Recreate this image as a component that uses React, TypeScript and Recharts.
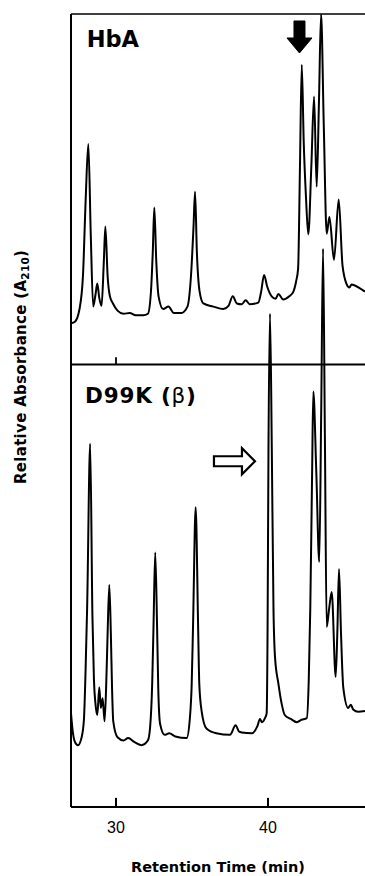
import React from 'react';
import { LineChart, Line, XAxis, YAxis, ReferenceLine, ReferenceDot } from 'recharts';

// Retention time (min) and relative absorbance for HbA (top trace)
const HBA_TIME = [27.04, 27.3, 27.6, 27.83, 28.0, 28.18, 28.34, 28.5, 28.65, 28.77, 28.9, 29.05, 29.2, 29.3, 29.45, 29.6, 29.8, 30.1, 30.5, 30.9, 31.3, 31.8, 32.1, 32.3, 32.42, 32.52, 32.65, 32.8, 33.1, 33.45, 33.8, 34.3, 34.7, 34.95, 35.1, 35.2, 35.32, 35.5, 35.75, 36.4, 37.06, 37.4, 37.68, 37.95, 38.27, 38.53, 38.8, 39.36, 39.55, 39.74, 39.95, 40.24, 40.5, 40.68, 41.0, 41.4, 41.67, 41.85, 41.98, 42.1, 42.22, 42.35, 42.5, 42.65, 42.85, 43.03, 43.2, 43.35, 43.49, 43.67, 43.86, 44.04, 44.34, 44.65, 44.9, 45.18, 45.35, 45.5, 46.05, 46.38];
const HBA_ABS = [5.2, 5.4, 7.0, 11.3, 20.5, 27.8, 16.4, 7.3, 8.8, 10.2, 8.4, 7.4, 13.0, 17.4, 11.1, 8.6, 7.7, 6.8, 6.4, 6.5, 6.2, 6.2, 6.4, 9.2, 14.2, 19.8, 13.0, 8.6, 7.0, 7.3, 6.5, 6.5, 7.3, 11.7, 17.4, 21.8, 14.2, 9.2, 7.7, 7.3, 7.0, 7.4, 8.6, 7.7, 7.6, 8.1, 7.6, 7.8, 9.2, 11.3, 9.8, 8.6, 8.3, 8.9, 8.2, 8.6, 9.2, 10.5, 12.1, 24.7, 37.8, 28.0, 21.0, 16.4, 25.0, 33.8, 22.4, 33.0, 44.2, 30.0, 16.5, 18.6, 13.2, 20.8, 12.5, 10.1, 9.7, 10.1, 9.6, 9.2];

// Retention time (min) and relative absorbance for D99K (beta) (bottom trace)
const D99K_TIME = [27.04, 27.15, 27.3, 27.5, 27.74, 27.89, 28.0, 28.1, 28.3, 28.45, 28.55, 28.65, 28.77, 28.9, 29.0, 29.12, 29.25, 29.38, 29.45, 29.56, 29.66, 29.74, 29.82, 30.1, 30.5, 30.8, 31.2, 31.67, 32.1, 32.25, 32.38, 32.47, 32.58, 32.7, 32.78, 32.9, 33.2, 33.5, 33.9, 34.65, 34.86, 34.98, 35.07, 35.24, 35.4, 35.48, 35.64, 35.95, 36.6, 37.5, 37.87, 38.1, 38.27, 38.93, 39.3, 39.47, 39.6, 39.8, 39.91, 39.97, 40.03, 40.13, 40.25, 40.36, 40.46, 40.68, 40.9, 41.1, 41.5, 41.89, 42.2, 42.55, 42.68, 42.78, 42.9, 42.98, 43.18, 43.37, 43.5, 43.62, 43.74, 43.86, 44.02, 44.19, 44.45, 44.56, 44.67, 44.8, 44.95, 45.28, 45.45, 45.6, 45.94, 46.38];
const D99K_ABS = [11.8, 9.6, 8.2, 7.8, 8.8, 11.0, 17.3, 25.0, 45.8, 24.0, 16.0, 13.0, 11.6, 15.1, 12.5, 13.7, 10.8, 17.0, 22.0, 28.0, 22.0, 15.0, 10.8, 8.8, 8.4, 8.7, 8.2, 7.8, 8.4, 10.2, 15.5, 23.0, 32.1, 23.0, 15.0, 10.5, 9.1, 9.3, 8.9, 8.7, 11.2, 15.5, 23.0, 37.8, 23.0, 15.5, 12.0, 9.9, 9.3, 9.1, 10.3, 9.5, 9.4, 9.3, 10.2, 11.1, 10.7, 11.2, 11.8, 22.0, 45.0, 62.2, 45.0, 25.0, 18.9, 15.6, 13.0, 11.6, 11.1, 10.7, 11.0, 11.2, 16.0, 25.0, 42.0, 52.4, 42.0, 30.9, 50.0, 70.4, 47.0, 22.7, 25.0, 27.1, 16.4, 22.0, 30.0, 22.0, 15.1, 12.5, 12.9, 12.3, 12.0, 12.1];

const X_TICKS = [30, 40];
const X_DOMAIN = [27.04, 46.38];
const Y_DOMAIN = [0, 100];
const PANEL_OFFSET = 55.8; // baseline of the HbA panel (divider line)

const TOP_LABEL = 'HbA';
const BOTTOM_LABEL = 'D99K (';
const BOTTOM_LABEL_GREEK = 'β';
const X_TITLE = 'Retention Time (min)';
const Y_TITLE = 'Relative Absorbance (A';
const Y_TITLE_SUB = '210';

// annotation anchors (data coordinates)
const DOWN_ARROW = { t: 42.07, v: 97.1 };
const RIGHT_ARROW = { t: 37.76, v: 43.6 };
const TOP_LABEL_POS = { t: 28.07, v: 95.9 };
const BOTTOM_LABEL_POS = { t: 27.96, v: 51.0 };

const hbaData = HBA_TIME.map((t, i) => ({ t, v: HBA_ABS[i] + PANEL_OFFSET }));
const d99kData = D99K_TIME.map((t, i) => ({ t, v: D99K_ABS[i] }));

const BOLD_FONT = '"DejaVu Sans", Arial, sans-serif';
const TICK_FONT = '"Liberation Sans", Arial, sans-serif';

const XTick = (props: any) => {
  const { x, y, payload } = props;
  return (
    <text x={x} y={y + 26} textAnchor="middle" fontFamily={TICK_FONT} fontSize={16} fill="#000">
      {payload.value}
    </text>
  );
};

const XTitle = (props: any) => {
  const vb = props.viewBox || {};
  return (
    <text
      x={vb.x + vb.width / 2}
      y={vb.y + 65}
      textAnchor="middle"
      fontFamily={BOLD_FONT}
      fontWeight="bold"
      fontSize={14.5}
      fill="#000"
    >
      {X_TITLE}
    </text>
  );
};

const YTitle = (props: any) => {
  const vb = props.viewBox || {};
  const cx = vb.x + 26;
  const cy = vb.y + vb.height * 0.445;
  return (
    <text
      x={cx}
      y={cy}
      transform={`rotate(-90 ${cx} ${cy})`}
      textAnchor="middle"
      fontFamily={BOLD_FONT}
      fontWeight="bold"
      fontSize={15}
      letterSpacing={0.3}
      fill="#000"
    >
      {Y_TITLE}
      <tspan fontSize={10.5} dy={3}>{Y_TITLE_SUB}</tspan>
      <tspan dy={-3}>)</tspan>
    </text>
  );
};

const DownArrow = (props: any) => {
  const { cx, cy } = props;
  const pts = [
    [cx - 5.5, cy - 16],
    [cx + 5.5, cy - 16],
    [cx + 5.5, cy + 1],
    [cx + 12.5, cy + 1],
    [cx, cy + 16],
    [cx - 12.5, cy + 1],
    [cx - 5.5, cy + 1],
  ]
    .map((p) => p.join(','))
    .join(' ');
  return <polygon points={pts} fill="#000" stroke="#000" strokeWidth={1} />;
};

const RightArrow = (props: any) => {
  const { cx, cy } = props;
  const pts = [
    [cx - 20, cy - 5],
    [cx + 8, cy - 5],
    [cx + 8, cy - 13],
    [cx + 21, cy],
    [cx + 8, cy + 13],
    [cx + 8, cy + 5],
    [cx - 20, cy + 5],
  ]
    .map((p) => p.join(','))
    .join(' ');
  return <polygon points={pts} fill="#fff" stroke="#000" strokeWidth={2.2} strokeLinejoin="miter" />;
};

const TopLabel = (props: any) => {
  const { cx, cy } = props;
  return (
    <text x={cx} y={cy} fontFamily={BOLD_FONT} fontWeight="bold" fontSize={22.5} fill="#000">
      {TOP_LABEL}
    </text>
  );
};

const BottomLabel = (props: any) => {
  const { cx, cy } = props;
  return (
    <text x={cx} y={cy} fontFamily={BOLD_FONT} fontWeight="bold" fontSize={21.5} letterSpacing={0.8} fill="#000">
      {BOTTOM_LABEL}
      <tspan fontWeight="normal">{BOTTOM_LABEL_GREEK}</tspan>
      <tspan>)</tspan>
    </text>
  );
};

export default function App() {
  return (
    <div style={{ position: 'absolute', left: 0, top: 0, width: 365, height: 876, background: '#fff' }}>
      <LineChart width={365} height={876} margin={{ top: 14, right: 0, bottom: 0, left: 0 }}>
        <XAxis
          type="number"
          dataKey="t"
          domain={X_DOMAIN}
          ticks={X_TICKS}
          allowDataOverflow
          height={69}
          tickSize={0}
          tickMargin={0}
          tickLine={false}
          axisLine={{ stroke: '#000', strokeWidth: 2 }}
          tick={<XTick />}
          label={<XTitle />}
        />
        <YAxis
          type="number"
          domain={Y_DOMAIN}
          allowDataOverflow
          width={71}
          tick={false}
          tickLine={false}
          axisLine={{ stroke: '#000', strokeWidth: 2 }}
          label={<YTitle />}
        />
        <ReferenceLine y={Y_DOMAIN[1]} stroke="#000" strokeWidth={1.6} />
        <ReferenceLine y={PANEL_OFFSET} stroke="#000" strokeWidth={1.8} />
        {X_TICKS.map((tk) => (
          <ReferenceLine
            key={`bt-${tk}`}
            segment={[
              { x: tk, y: Y_DOMAIN[0] },
              { x: tk, y: Y_DOMAIN[0] + 1.15 },
            ]}
            stroke="#000"
            strokeWidth={2}
          />
        ))}
        <ReferenceLine
          segment={[
            { x: X_TICKS[0], y: PANEL_OFFSET },
            { x: X_TICKS[0], y: PANEL_OFFSET + 0.9 },
          ]}
          stroke="#000"
          strokeWidth={1.8}
        />
        <Line
          data={hbaData}
          dataKey="v"
          type="monotone"
          stroke="#000"
          strokeWidth={2}
          dot={false}
          activeDot={false}
          isAnimationActive={false}
        />
        <Line
          data={d99kData}
          dataKey="v"
          type="monotone"
          stroke="#000"
          strokeWidth={2}
          dot={false}
          activeDot={false}
          isAnimationActive={false}
        />
        <ReferenceDot x={DOWN_ARROW.t} y={DOWN_ARROW.v} r={0} shape={<DownArrow />} />
        <ReferenceDot x={RIGHT_ARROW.t} y={RIGHT_ARROW.v} r={0} shape={<RightArrow />} />
        <ReferenceDot x={TOP_LABEL_POS.t} y={TOP_LABEL_POS.v} r={0} shape={<TopLabel />} />
        <ReferenceDot x={BOTTOM_LABEL_POS.t} y={BOTTOM_LABEL_POS.v} r={0} shape={<BottomLabel />} />
      </LineChart>
    </div>
  );
}
